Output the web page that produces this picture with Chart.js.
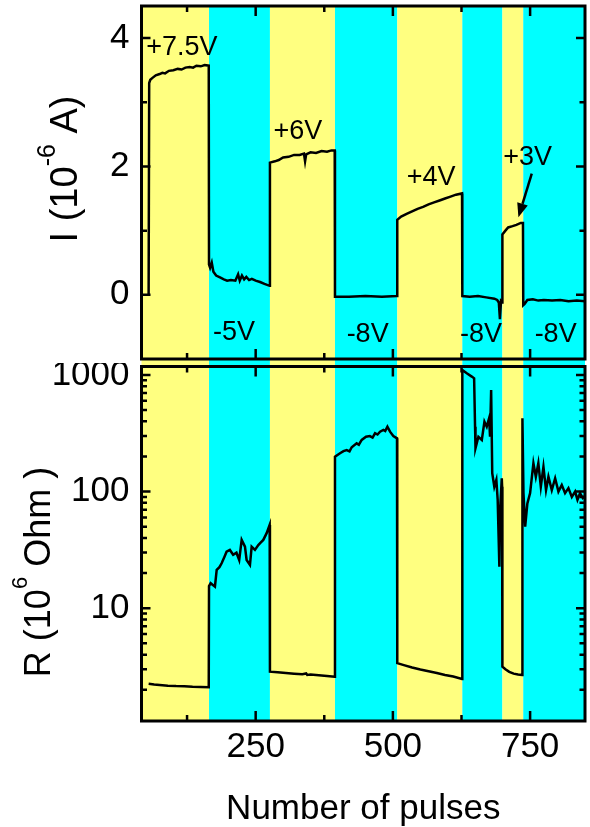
<!doctype html>
<html>
<head>
	<meta charset="utf-8">
	<title>I and R vs number of pulses</title>
	<script src="https://cdn.jsdelivr.net/npm/chart.js@4.4.1/dist/chart.umd.min.js"></script>
	<style>
		body { margin: 0; background: #fff; }
		#top-holder { position: absolute; left: 0; top: 0; width: 590px; height: 363px; }
		#bottom-holder { position: absolute; left: 0; top: 363px; width: 590px; height: 464px; }
	</style>
</head>
<body>
	<div id="top-holder"><canvas id="chart-top" width="590" height="363"></canvas></div>
	<div id="bottom-holder"><canvas id="chart-bottom" width="590" height="464"></canvas></div>
	<script>
	// current, 10^-6 A
	var pulsesI = [
		55, 56, 58, 62, 68, 75, 80, 85, 92, 100, 108, 115, 122, 130, 136, 142, 150, 157, 164.5,
		165, 167, 170, 173, 178, 185, 192, 198, 205, 213, 218, 221, 225, 229, 233, 238, 243, 250, 258, 266, 275.5,
		276, 285, 292, 300, 310, 320, 330, 338, 340, 342, 350, 360, 370, 380, 388, 394,
		394.5, 420, 450, 480, 507.5,
		508, 515, 525, 535, 545, 555, 565, 575, 585, 595, 605, 615, 626,
		626.5, 640, 655, 670, 685, 690, 693, 695, 697, 699,
		699.5, 705, 710, 718, 725, 733, 737,
		737.5, 740, 745, 755, 765, 775, 790, 805, 820, 835, 850
	];
	var currentI = [
		0, 3.30, 3.35, 3.38, 3.42, 3.44, 3.46, 3.45, 3.49, 3.50, 3.52, 3.51, 3.54, 3.55, 3.54, 3.57, 3.56, 3.58, 3.57,
		0.47, 0.42, 0.50, 0.36, 0.30, 0.27, 0.24, 0.22, 0.23, 0.22, 0.32, 0.22, 0.30, 0.24, 0.28, 0.23, 0.25, 0.22, 0.20, 0.17, 0.14,
		2.06, 2.08, 2.10, 2.14, 2.15, 2.18, 2.18, 2.20, 2.08, 2.19, 2.22, 2.21, 2.24, 2.23, 2.25, 2.25,
		-0.03, -0.03, -0.02, -0.03, -0.02,
		1.17, 1.22, 1.26, 1.30, 1.34, 1.37, 1.41, 1.44, 1.47, 1.50, 1.53, 1.56, 1.58,
		-0.02, -0.03, -0.02, -0.04, -0.06, -0.08, -0.12, -0.38, -0.10, -0.12,
		0.94, 1.00, 1.05, 1.07, 1.09, 1.12, 1.12,
		-0.16, -0.14, -0.08, -0.07, -0.09, -0.08, -0.09, -0.08, -0.10, -0.09, -0.10
	];
	// resistance, 10^6 Ohm
	var pulsesR = [
		55, 65, 75, 90, 105, 120, 135, 150, 164.5,
		165, 168, 175.8, 179, 184, 188, 193, 197, 203, 209, 215, 220, 224.5, 230.5, 233.5, 239.6, 242.7, 248.7, 254.8, 259, 263.9, 270, 275.5,
		276, 290, 305, 320, 335, 342, 344, 350, 365, 380, 394,
		394.5, 403.7, 410, 415.9, 421, 425, 434, 438, 443.2, 451, 458, 463, 467.5, 472, 476.6, 482.7, 486, 490, 494.8, 500.8, 507.5,
		508, 520, 535, 550, 565, 580, 595, 610, 626,
		626.5, 634.6, 643.7, 648, 649.7, 650.5, 655.8, 662, 666.8, 671, 675.3, 677, 679, 681, 684.8, 688.5, 690.9, 694, 695.3, 698.4, 699,
		699.5, 705, 712, 720, 728, 735.5,
		736, 737.9, 741, 745, 750, 756, 760.4, 765, 769.5, 774.3, 779, 783.4, 789.5, 795.6, 801.6, 807.7, 813.7, 819.8, 826, 832, 836.3, 841, 846, 850
	];
	var resistanceR = [
		2.25, 2.22, 2.20, 2.17, 2.15, 2.14, 2.12, 2.11, 2.10,
		15.5, 16.4, 15.3, 21.3, 22.5, 24.3, 27.5, 30.5, 31.6, 28.7, 29.9, 25.9, 38.5, 33.7, 25.9, 23.5, 33.7, 31.6, 34.8, 36.5, 38.5, 44, 51.8,
		2.86, 2.82, 2.78, 2.75, 2.72, 2.76, 2.68, 2.70, 2.67, 2.63, 2.59,
		199, 213, 222, 227, 221, 240, 259, 252, 277, 295, 299, 290, 316, 308, 326, 337, 330, 360, 326, 299, 286,
		3.38, 3.25, 3.10, 2.98, 2.88, 2.78, 2.68, 2.60, 2.48,
		1102, 1033, 967, 935, 360, 235, 295, 277, 397, 360, 425, 295, 743, 144, 110, 126, 85, 22.7, 69.5, 130, 110,
		3.16, 3.00, 2.85, 2.75, 2.70, 2.68,
		425, 97, 50, 79, 97, 175, 134, 175, 110, 163, 103, 134, 103, 130, 100, 114, 97, 107, 90, 100, 85, 97, 88, 92
	];
	// pulse polarity regions
	var bandEdges = [42, 165, 276, 394.5, 508, 626.5, 699.5, 737.5, 850];
	var bandPolarity = ['+', '-', '+', '-', '+', '-', '+', '-'];
	var voltageLabels = ['+7.5V', '-5V', '+6V', '-8V', '+4V', '-8V', '+3V', '-8V'];
	var labelAnchors = [[115.7, 3.74], [210.5, -0.70], [327, 2.43], [454, -0.73], [569.5, 1.71], [660.6, -0.73], [745.5, 2.02], [796.5, -0.73]];
	var arrowFrom = [753, 1.89], arrowTo = [728.7, 1.21];
	// ticks
	var xTicks = [250, 500, 750];
	var xMinor = [125, 375, 625];
	var iTicks = [0, 2, 4];
	var iMinor = [1, 3];
	var rTicks = [10, 100, 1000];

	var FONT = '"Liberation Sans", Arial, sans-serif';
	var bandColor = { '+': '#ffff80', '-': '#00ffff' };

	function points(xs, ys) {
		return xs.map(function(x, i) { return { x: x, y: ys[i] }; });
	}
	function setTicks(list) {
		return function(scale) { scale.ticks = list.map(function(v) { return { value: v }; }); };
	}
	function fixWidth(w) {
		return function(s) {
			s.width = w;
			s.paddingTop = 0; s.paddingBottom = 0;
		};
	}
	function fixHeight(h) {
		return function(s) {
			s.height = h;
			s.paddingLeft = 0; s.paddingRight = 0;
		};
	}

	function logMinor(min, max) {
		var out = [];
		for (var d = 1; d <= 1000; d *= 10) {
			for (var k = 2; k <= 9; k++) {
				if (k * d >= min && k * d <= max) out.push(k * d);
			}
		}
		return out;
	}

	function drawTitle(ctx, parts, bx, cy, size, supSize, rise) {
		ctx.save();
		ctx.fillStyle = '#000';
		ctx.textBaseline = 'alphabetic';
		ctx.textAlign = 'left';
		var total = 0;
		parts.forEach(function(p) {
			ctx.font = (p.sup ? supSize : size) + 'px ' + FONT;
			p.w = ctx.measureText(p.t).width;
			total += p.w;
		});
		ctx.translate(bx, cy);
		ctx.rotate(-Math.PI / 2);
		var x = -total / 2;
		parts.forEach(function(p) {
			ctx.font = (p.sup ? supSize : size) + 'px ' + FONT;
			ctx.fillText(p.t, x, p.sup ? -rise : 0);
			x += p.w;
		});
		ctx.restore();
	}

	var panelPlugin = {
		id: 'panel',
		beforeDatasetsDraw: function(chart, args, opts) {
			var ctx = chart.ctx, a = chart.chartArea, xs = chart.scales.x;
			var top = opts.bandToEdge === 'top' ? 0 : a.top;
			var bottom = opts.bandToEdge === 'bottom' ? chart.height : a.bottom;
			ctx.save();
			for (var i = 0; i < bandPolarity.length; i++) {
				var x0 = xs.getPixelForValue(bandEdges[i]);
				var x1 = xs.getPixelForValue(bandEdges[i + 1]);
				ctx.fillStyle = bandColor[bandPolarity[i]];
				ctx.fillRect(x0, top, x1 - x0, bottom - top);
			}
			ctx.restore();
		},
		afterDraw: function(chart, args, opts) {
			var ctx = chart.ctx, a = chart.chartArea, xs = chart.scales.x, ys = chart.scales.y;
			ctx.save();
			ctx.strokeStyle = '#000';
			ctx.lineWidth = 2.5;
			ctx.beginPath();
			function xt(v, len) {
				var p = xs.getPixelForValue(v);
				ctx.moveTo(p, a.bottom); ctx.lineTo(p, a.bottom - len);
				ctx.moveTo(p, a.top); ctx.lineTo(p, a.top + len);
			}
			function yt(v, len) {
				var p = ys.getPixelForValue(v);
				ctx.moveTo(a.left, p); ctx.lineTo(a.left + len, p);
				ctx.moveTo(a.right, p); ctx.lineTo(a.right - len, p);
			}
			xTicks.forEach(function(v) { xt(v, 10); });
			xMinor.forEach(function(v) { xt(v, 6); });
			opts.yMajor.forEach(function(v) { yt(v, 9); });
			opts.yMinor.forEach(function(v) { yt(v, 5.5); });
			ctx.stroke();
			ctx.lineWidth = 3;
			ctx.strokeRect(a.left, a.top, a.right - a.left, a.bottom - a.top);
			ctx.restore();

			if (opts.labels) {
				ctx.save();
				ctx.fillStyle = '#000';
				ctx.font = '27px ' + FONT;
				ctx.textAlign = 'center';
				ctx.textBaseline = 'alphabetic';
				voltageLabels.forEach(function(t, i) {
					ctx.fillText(t, xs.getPixelForValue(labelAnchors[i][0]), ys.getPixelForValue(labelAnchors[i][1]));
				});
				var fx = xs.getPixelForValue(arrowFrom[0]), fy = ys.getPixelForValue(arrowFrom[1]);
				var tx = xs.getPixelForValue(arrowTo[0]), ty = ys.getPixelForValue(arrowTo[1]);
				var ang = Math.atan2(ty - fy, tx - fx);
				var hl = 14, hw = 5.5;
				var bx = tx - hl * Math.cos(ang), by = ty - hl * Math.sin(ang);
				ctx.strokeStyle = '#000';
				ctx.lineWidth = 2.5;
				ctx.beginPath();
				ctx.moveTo(fx, fy); ctx.lineTo(bx, by);
				ctx.stroke();
				ctx.beginPath();
				ctx.moveTo(tx, ty);
				ctx.lineTo(bx + hw * Math.sin(ang), by - hw * Math.cos(ang));
				ctx.lineTo(bx - hw * Math.sin(ang), by + hw * Math.cos(ang));
				ctx.closePath();
				ctx.fill();
				ctx.restore();
			}
			drawTitle(ctx, opts.title, opts.titleX, opts.titleY, opts.titleSize, opts.supSize, opts.supRise);
		}
	};

	var yTickStyle = {
		padding: 12,
		color: '#000',
		font: { family: FONT, size: 35 },
		callback: function(v) { return String(v); }
	};

	var topConfig = {
		type: 'line',
		data: {
			datasets: [{
				data: points(pulsesI, currentI),
				borderColor: '#000',
				borderWidth: 2.5,
				pointRadius: 0,
				tension: 0
			}]
		},
		options: {
			responsive: false,
			animation: false,
			layout: { padding: { left: 0, right: 5, top: 6, bottom: 4 } },
			plugins: {
				legend: { display: false },
				tooltip: { enabled: false },
				panel: {
					bandToEdge: 'bottom',
					yMajor: iTicks,
					yMinor: iMinor,
					labels: true,
					title: [{ t: 'I (10' }, { t: '-6', sup: true }, { t: ' A)' }],
					titleX: 77, titleY: 169, titleSize: 38, supSize: 25, supRise: 22
				}
			},
			scales: {
				x: { type: 'linear', min: 42, max: 850, display: false },
				y: {
					type: 'linear', min: -1, max: 4.5,
					afterFit: fixWidth(141.5),
					afterBuildTicks: setTicks(iTicks),
					grid: { display: false, drawTicks: false },
					border: { display: false },
					ticks: yTickStyle
				}
			}
		},
		plugins: [panelPlugin]
	};

	var bottomConfig = {
		type: 'line',
		data: {
			datasets: [{
				data: points(pulsesR, resistanceR),
				borderColor: '#000',
				borderWidth: 2.5,
				pointRadius: 0,
				tension: 0
			}]
		},
		options: {
			responsive: false,
			animation: false,
			layout: { padding: { left: 0, right: 5, top: 3.5, bottom: 0 } },
			plugins: {
				legend: { display: false },
				tooltip: { enabled: false },
				panel: {
					bandToEdge: 'top',
					yMajor: rTicks,
					yMinor: logMinor(1.08, 1180),
					labels: false,
					title: [{ t: 'R (10' }, { t: '6', sup: true }, { t: ' Ohm )' }],
					titleX: 50, titleY: 209, titleSize: 36, supSize: 22, supRise: 23
				}
			},
			scales: {
				x: {
					type: 'linear', min: 42, max: 850,
					afterFit: fixHeight(106),
					afterBuildTicks: setTicks(xTicks),
					grid: { display: false, drawTicks: false },
					border: { display: false },
					ticks: {
						padding: 5.5,
						color: '#000',
						maxRotation: 0,
						autoSkip: false,
						font: { family: FONT, size: 35 },
						callback: function(v) { return String(v); }
					},
					title: {
						display: true,
						text: 'Number of pulses',
						color: '#000',
						padding: { top: 0, bottom: -3 },
						font: { family: FONT, size: 35 }
					}
				},
				y: {
					type: 'logarithmic', min: 1.08, max: 1180,
					afterFit: fixWidth(141.5),
					afterBuildTicks: setTicks(rTicks),
					grid: { display: false, drawTicks: false },
					border: { display: false },
					ticks: yTickStyle
				}
			}
		},
		plugins: [panelPlugin]
	};

	window.topChart = new Chart(document.getElementById('chart-top').getContext('2d'), topConfig);
	window.bottomChart = new Chart(document.getElementById('chart-bottom').getContext('2d'), bottomConfig);
	</script>
</body>
</html>
